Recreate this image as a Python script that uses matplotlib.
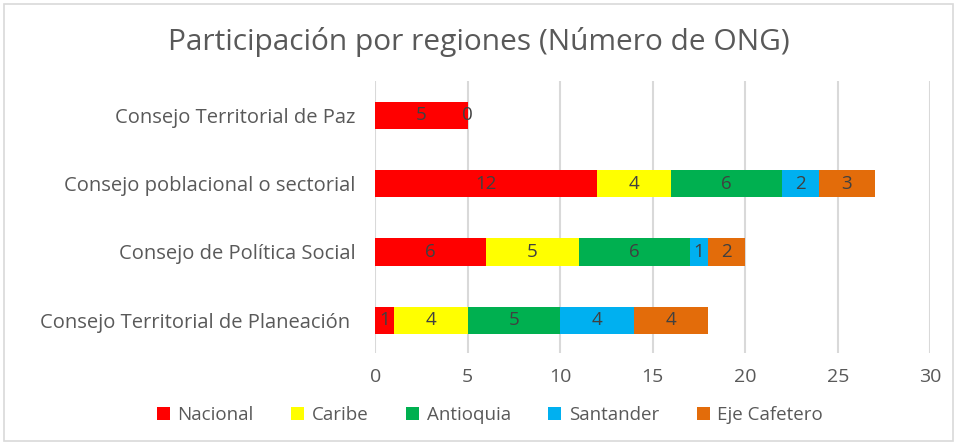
import matplotlib.pyplot as plt
import numpy as np
from matplotlib.patches import Rectangle

consejos = ['Consejo Territorial de Planeación ', 'Consejo de Política Social',
            'Consejo poblacional o sectorial', 'Consejo Territorial de Paz']
regiones = ['Nacional', 'Caribe', 'Antioquia', 'Santander', 'Eje Cafetero']
colores = ['#FF0000', '#FFFF00', '#00B050', '#00B0F0', '#E36C0A']

nacional = [1, 6, 12, 5]
caribe = [4, 5, 4, 0]
antioquia = [5, 6, 6, np.nan]
santander = [4, 1, 2, np.nan]
eje_cafetero = [4, 2, 3, np.nan]

series = [nacional, caribe, antioquia, santander, eje_cafetero]

plt.rcParams['font.family'] = ['Open Sans', 'DejaVu Sans']
gris = '#595959'

fig = plt.figure(figsize=(9.57, 4.43), dpi=100)
ax = fig.add_axes([0.392, 0.203, 0.58, 0.614])

y = np.arange(len(consejos))
left = np.zeros(len(consejos))
for nombre, vals, col in zip(regiones, series, colores):
    v = np.array(vals, dtype=float)
    bars = ax.barh(y, np.nan_to_num(v), left=left, height=0.4, color=col,
                   label=nombre, zorder=3)
    labels = ['' if np.isnan(x) else '%d' % x for x in v]
    ax.bar_label(bars, labels=labels, label_type='center', color='#404040',
                 fontsize=13.5)
    left = left + np.nan_to_num(v)

ax.set_xlim(0, 30)
ax.set_xticks(range(0, 31, 5))
ax.set_ylim(-0.48, 3.5)
ax.set_yticks(y)
ax.set_yticklabels(consejos)
ax.grid(axis='x', color='#D9D9D9', linewidth=1.5, zorder=0)
for s in ax.spines.values():
    s.set_visible(False)
ax.tick_params(axis='y', length=0, labelsize=14.5, colors=gris, pad=14)
ax.tick_params(axis='x', length=0, labelsize=14, colors=gris, pad=11)

fig.suptitle('Participación por regiones (Número de ONG)', y=0.94,
             fontsize=21.5, color=gris)
fig.legend(*ax.get_legend_handles_labels(), loc='center',
           bbox_to_anchor=(0.512, 0.063), ncol=5,
           frameon=False, fontsize=13.5, labelcolor=gris, handlelength=0.7,
           handleheight=0.7, columnspacing=2.0, handletextpad=0.4)

fig.patches.append(Rectangle((0.004, 0.005), 0.992, 0.985, transform=fig.transFigure,
                             fill=False, edgecolor='#D9D9D9', linewidth=1.2))

fig.savefig('out.png', dpi=100)
